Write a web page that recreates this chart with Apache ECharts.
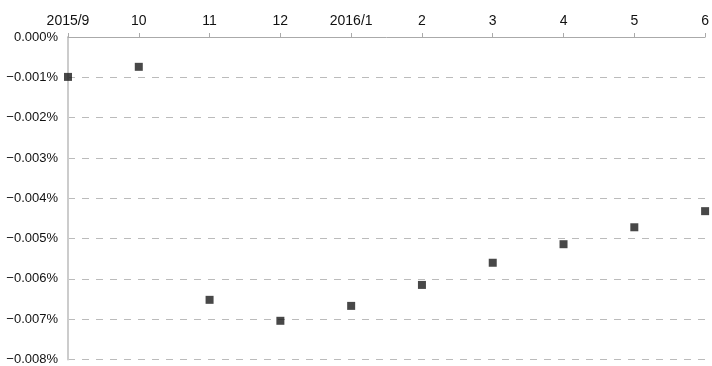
<!DOCTYPE html>
<html>
<head>
<meta charset="utf-8">
<script src="https://cdn.jsdelivr.net/npm/echarts@6/dist/echarts.min.js"></script>
<style>
  html, body { margin: 0; padding: 0; background: #fff; }
  #chart { width: 712px; height: 366px; }
</style>
</head>
<body>
<div id="chart"></div>
<script>
// months shown along the top axis
const months = ['2015/9', '10', '11', '12', '2016/1', '2', '3', '4', '5', '6'];
// values in percent
const values = [-0.00099, -0.00074, -0.00652, -0.00704, -0.00667, -0.00615, -0.00560, -0.00514, -0.00472, -0.00432];

const fontFamily = '"Liberation Sans", Arial, "Noto Sans CJK JP", sans-serif';

const chart = echarts.init(document.getElementById('chart'), null, { renderer: 'canvas' });
chart.setOption({
  animation: false,
  grid: { left: 68, right: 3, top: 37, bottom: 5, containLabel: false },
  xAxis: {
    type: 'category',
    position: 'top',
    data: months,
    boundaryGap: false,
    axisLine: { lineStyle: { color: '#aaaaaa', width: 1 } },
    axisTick: { show: true, alignWithLabel: true, length: 4, lineStyle: { color: '#aaaaaa' } },
    axisLabel: { color: '#111', fontSize: 14, fontFamily, margin: 9 },
    splitLine: { show: false }
  },
  yAxis: {
    type: 'value',
    min: -0.008,
    max: 0,
    interval: 0.001,
    axisLine: { show: true, lineStyle: { color: '#cccccc', width: 2 } },
    axisTick: { show: false },
    axisLabel: {
      color: '#111',
      fontSize: 13,
      fontFamily,
      margin: 10,
      padding: [4, 0, 0, 0],
      formatter: v => (v < 0 ? '\u2212' : '') + Math.abs(v).toFixed(3) + '%'
    },
    splitLine: { show: true, lineStyle: { color: '#bbbbbb', type: [7, 7], width: 1 } }
  },
  series: [
    {
      type: 'scatter',
      data: values,
      symbol: 'rect',
      symbolSize: 8,
      itemStyle: { color: '#1a1a1a' }
    }
  ]
});
</script>
</body>
</html>
